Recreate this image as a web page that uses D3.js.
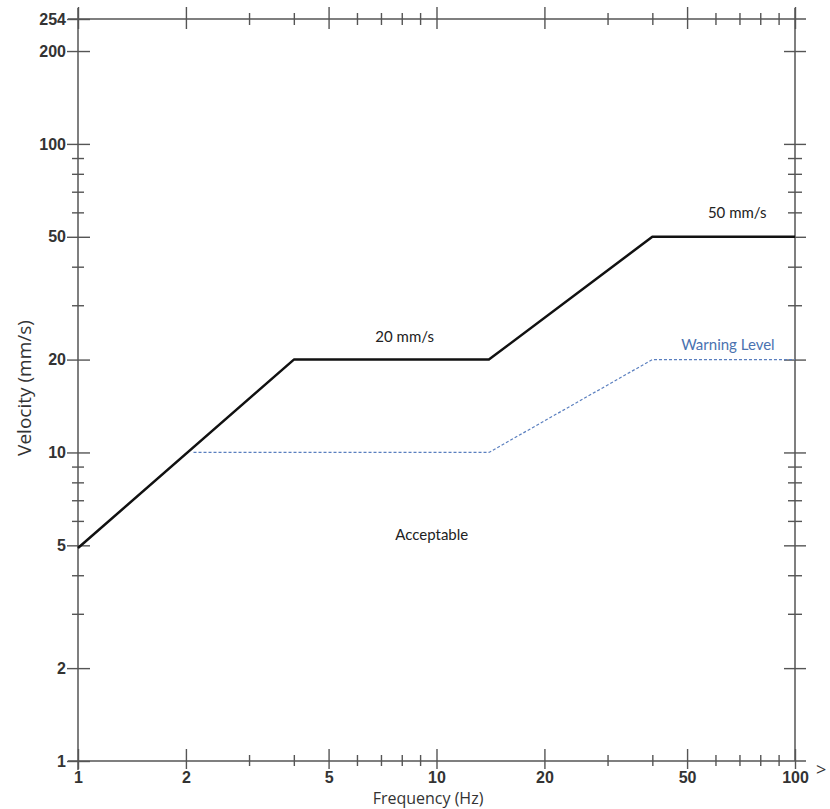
<!DOCTYPE html>
<html>
<head>
<meta charset="utf-8">
<script src="https://cdn.jsdelivr.net/npm/d3@7"></script>
<style>
  body { margin: 0; background: #fff; }
  svg { display: block; }
</style>
</head>
<body>
<div id="chart"></div>
<script>
// Chart data
const xMajor = [1, 2, 5, 10, 20, 50, 100];
const xMinor = [3, 4, 6, 7, 8, 9, 30, 40, 60, 70, 80, 90];
const yMajor = [1, 2, 5, 10, 20, 50, 100, 200, 254];
const yMinor = [3, 4, 6, 7, 8, 9, 30, 40, 60, 70, 80, 90];

const limitFreq = [1, 4, 14, 40, 100];
const limitVel = [4.9, 20, 20, 50, 50];
const warnFreq = [2.1, 14, 40, 100];
const warnVel = [10, 10, 20, 20];

const labels = [
  {text: "20 mm/s", f: 8.15, v: 22.8, color: "#222"},
  {text: "50 mm/s", f: 69, v: 57.5, color: "#222"},
  {text: "Warning Level", f: 65, v: 21.5, color: "#4a72b0"},
  {text: "Acceptable", f: 9.7, v: 5.2, color: "#222"}
];

const width = 830, height = 809;
const plotLeft = 78, plotRight = 795, plotTop = 19, plotBottom = 761;

const svg = d3.select("#chart").append("svg")
  .attr("width", width)
  .attr("height", height);

const x = d3.scaleLog().domain([1, 100]).range([plotLeft, plotRight]);
const y = d3.scaleLog().domain([1, 254]).range([plotBottom, plotTop]);

const axisColor = "#555";

// axis frame lines
svg.append("line").attr("x1", 68).attr("x2", 806).attr("y1", plotBottom).attr("y2", plotBottom)
  .attr("stroke", axisColor).attr("stroke-width", 1.5);
svg.append("line").attr("x1", 68).attr("x2", 806).attr("y1", plotTop).attr("y2", plotTop)
  .attr("stroke", axisColor).attr("stroke-width", 1.5);
svg.append("line").attr("x1", plotLeft).attr("x2", plotLeft).attr("y1", 8).attr("y2", 770)
  .attr("stroke", axisColor).attr("stroke-width", 1.5);
svg.append("line").attr("x1", plotRight).attr("x2", plotRight).attr("y1", 8).attr("y2", plotBottom)
  .attr("stroke", axisColor).attr("stroke-width", 1.5);

// helper: make ticks cross the axis line
function crossTicks(g, horizontal, inner, outer) {
  g.select(".domain").remove();
  g.selectAll(".tick line")
    .attr("stroke", axisColor)
    .attr("stroke-width", 1.4)
    .each(function() {
      const l = d3.select(this);
      if (horizontal) l.attr("y1", -inner).attr("y2", outer);
      else l.attr("x1", -outer).attr("x2", inner);
    });
  g.selectAll(".tick text")
    .attr("fill", "#333")
    .style("font-family", "'Liberation Sans', Arial, sans-serif")
    .style("font-size", "16px")
    .style("font-weight", "bold");
}

// bottom axis
svg.append("g")
  .attr("transform", `translate(0,${plotBottom})`)
  .call(d3.axisBottom(x).tickValues(xMajor).tickFormat(d3.format("d")).tickSize(0).tickPadding(11))
  .call(g => crossTicks(g, true, 12, 8));
svg.append("g")
  .attr("transform", `translate(0,${plotBottom})`)
  .call(d3.axisBottom(x).tickValues(xMinor).tickFormat("").tickSize(0))
  .call(g => crossTicks(g, true, 6, 5));

// top axis
svg.append("g")
  .attr("transform", `translate(0,${plotTop})`)
  .call(d3.axisTop(x).tickValues(xMajor).tickFormat("").tickSize(0))
  .call(g => crossTicks(g, true, 12, 10));
svg.append("g")
  .attr("transform", `translate(0,${plotTop})`)
  .call(d3.axisTop(x).tickValues(xMinor).tickFormat("").tickSize(0))
  .call(g => crossTicks(g, true, 6, 6));

// left axis
svg.append("g")
  .attr("transform", `translate(${plotLeft},0)`)
  .call(d3.axisLeft(y).tickValues(yMajor).tickFormat(d3.format("d")).tickSize(0).tickPadding(12))
  .call(g => crossTicks(g, false, 12, 11));
svg.append("g")
  .attr("transform", `translate(${plotLeft},0)`)
  .call(d3.axisLeft(y).tickValues(yMinor).tickFormat("").tickSize(0))
  .call(g => crossTicks(g, false, 6, 6));

// right axis
svg.append("g")
  .attr("transform", `translate(${plotRight},0)`)
  .call(d3.axisRight(y).tickValues(yMajor.filter(d => d !== 254 && d !== 1)).tickFormat("").tickSize(0))
  .call(g => crossTicks(g, false, 11, 11));
svg.append("g")
  .attr("transform", `translate(${plotRight},0)`)
  .call(d3.axisRight(y).tickValues(yMinor).tickFormat("").tickSize(0))
  .call(g => crossTicks(g, false, 7, 7));

// lines
const line = d3.line().x(d => x(d[0])).y(d => y(d[1]));

svg.append("path")
  .datum(warnFreq.map((f, i) => [f, warnVel[i]]))
  .attr("d", line)
  .attr("fill", "none")
  .attr("stroke", "#5a7fbf")
  .attr("stroke-width", 1.2)
  .attr("stroke-dasharray", "3,2");

svg.append("path")
  .datum(limitFreq.map((f, i) => [f, limitVel[i]]))
  .attr("d", line)
  .attr("fill", "none")
  .attr("stroke", "#111")
  .attr("stroke-width", 2.5)
  .attr("stroke-linejoin", "round");

// annotations
svg.selectAll(".note")
  .data(labels)
  .enter()
  .append("text")
  .attr("class", "note")
  .attr("x", d => x(d.f))
  .attr("y", d => y(d.v))
  .attr("text-anchor", "middle")
  .attr("fill", d => d.color)
  .style("font-family", "Lato, 'Open Sans', sans-serif")
  .style("font-size", "15px")
  .text(d => d.text);

// axis titles
svg.append("text")
  .attr("x", 428)
  .attr("y", 804)
  .attr("text-anchor", "middle")
  .attr("fill", "#333")
  .style("font-family", "'Open Sans', sans-serif")
  .style("font-size", "16px")
  .text("Frequency (Hz)");

svg.append("text")
  .attr("transform", "translate(31,388) rotate(-90)")
  .attr("text-anchor", "middle")
  .attr("fill", "#333")
  .style("font-family", "'Open Sans', sans-serif")
  .style("font-size", "19px")
  .text("Velocity (mm/s)");

svg.append("text")
  .attr("x", 816)
  .attr("y", 776)
  .attr("fill", "#333")
  .style("font-family", "'Open Sans', sans-serif")
  .style("font-size", "18px")
  .text(">");
</script>
</body>
</html>
